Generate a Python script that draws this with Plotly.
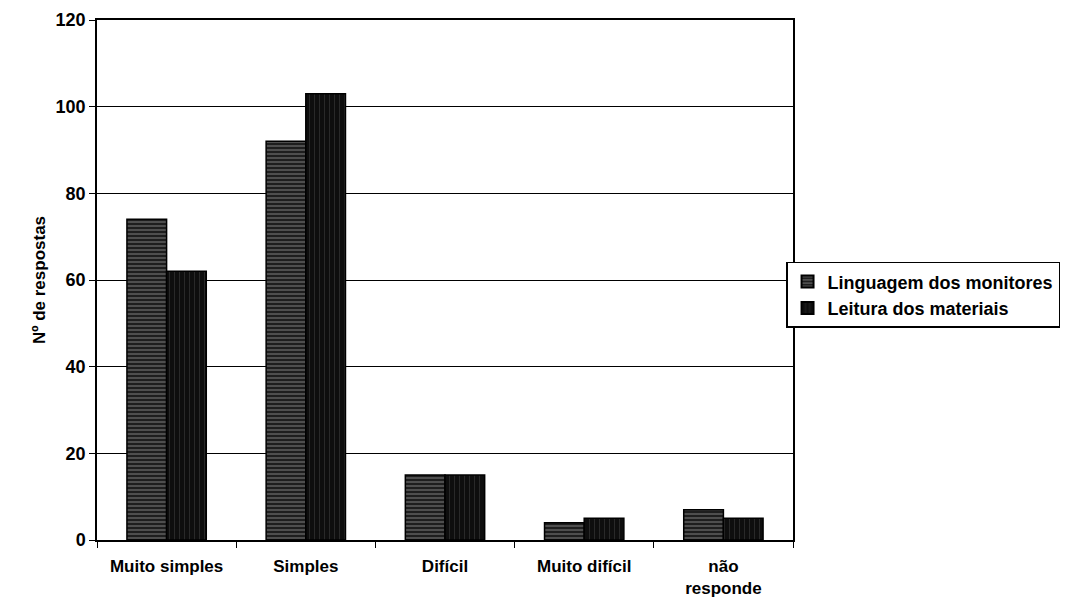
import plotly.graph_objects as go

# Respostas por categoria de dificuldade
categorias = ["Muito simples", "Simples", "Difícil", "Muito difícil", "não<br>responde"]
linguagem_monitores = [74, 92, 15, 4, 7]
leitura_materiais = [62, 103, 15, 5, 5]
y_ticks = [0, 20, 40, 60, 80, 100, 120]

FONT = "Liberation Sans, Arial, sans-serif"

fig = go.Figure()
fig.add_trace(go.Bar(
    name="Linguagem dos monitores",
    x=categorias, y=linguagem_monitores,
    marker=dict(
        color="#3a3a3a",
        line=dict(color="black", width=1.5),
        pattern=dict(shape="-", fgcolor="#bdbdbd", bgcolor="#1e1e1e", size=4, solidity=0.3),
    ),
))
fig.add_trace(go.Bar(
    name="Leitura dos materiais",
    x=categorias, y=leitura_materiais,
    marker=dict(
        color="#111111",
        line=dict(color="black", width=1.5),
        pattern=dict(shape="|", fgcolor="#555555", bgcolor="#0e0e0e", size=5, solidity=0.15),
    ),
))

fig.update_layout(
    width=1089, height=603,
    margin=dict(l=97, r=296, t=20, b=63),
    paper_bgcolor="white", plot_bgcolor="white",
    barmode="group", bargap=0.43, bargroupgap=0,
    font=dict(family=FONT, size=17, color="black"),
    showlegend=True,
    legend=dict(
        x=0.99, y=0.535, xanchor="left", yanchor="top",
        bordercolor="black", borderwidth=1.5, bgcolor="white",
        font=dict(family=FONT, size=18, color="black", weight="bold"),
        itemsizing="constant", tracegroupgap=6, itemwidth=30,
    ),
)
fig.update_xaxes(
    automargin=False,
    showline=True, linecolor="black", linewidth=1.5, mirror=True,
    ticks="outside", tickson="boundaries", ticklen=6, tickcolor="black",
    ticklabelstandoff=10,
    tickfont=dict(family=FONT, size=17, color="black", weight="bold"),
    showgrid=False,
)
fig.update_yaxes(
    automargin=False,
    range=[0, 120], tickvals=y_ticks,
    showline=True, linecolor="black", linewidth=1.5, mirror=True,
    ticks="outside", ticklen=6, tickcolor="black",
    showgrid=True, gridcolor="black", gridwidth=1,
    tickfont=dict(family=FONT, size=18, color="black", weight="bold"),
    title=dict(text="Nº de respostas", standoff=6,
               font=dict(family=FONT, size=17, color="black", weight="bold")),
    zeroline=False,
)

fig.write_html("out.html")
